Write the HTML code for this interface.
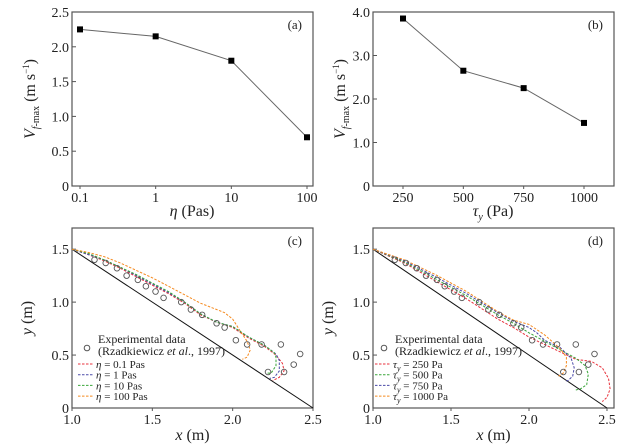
<!DOCTYPE html>
<html><head><meta charset="utf-8"><style>
body{margin:0;background:#fff}
svg{display:block}
svg text{fill:#222;font-family:"Liberation Serif","DejaVu Serif",serif}
</style></head><body>
<svg id="s" width="644" height="448" viewBox="0 0 644 448" font-family="Liberation Serif, serif"></svg>
<script>
// Panel (a)
const aCats=[0.1,1,10,100];
const aVals=[2.25,2.15,1.8,0.7];
const aYTicks=[0,0.5,1.0,1.5,2.0,2.5];
const aXTickLabels=["0.1","1","10","100"];
// Panel (b)
const bCats=[250,500,750,1000];
const bVals=[3.85,2.65,2.25,1.45];
const bYTicks=[0,1.0,2.0,3.0,4.0];
// Experimental data
const expX=[1.14,1.21,1.28,1.34,1.41,1.46,1.52,1.57,1.68,1.74,1.81,1.90,1.95,2.02,2.09,2.18,2.22,2.30,2.32,2.38,2.42];
const expY=[1.40,1.37,1.32,1.25,1.21,1.15,1.10,1.04,1.00,0.93,0.88,0.80,0.76,0.64,0.60,0.60,0.34,0.60,0.34,0.41,0.51];
const cEta01X=[1,1.1,1.2,1.3,1.4,1.5,1.6,1.7,1.8,1.9,2.0,2.1,2.2,2.27,2.31,2.32,2.29,2.25];
const cEta01Y=[1.5,1.45,1.39,1.32,1.24,1.16,1.08,0.99,0.88,0.81,0.76,0.66,0.58,0.50,0.42,0.35,0.29,0.26];
const cEta1X=[1,1.1,1.2,1.3,1.4,1.5,1.6,1.7,1.8,1.9,2.0,2.1,2.2,2.27,2.29,2.29,2.26,2.23];
const cEta1Y=[1.5,1.45,1.40,1.33,1.25,1.17,1.09,1.00,0.89,0.81,0.77,0.67,0.59,0.51,0.45,0.35,0.29,0.28];
const cEta10X=[1,1.1,1.2,1.3,1.4,1.5,1.6,1.7,1.8,1.9,2.0,2.1,2.2,2.26,2.27,2.27,2.24,2.21];
const cEta10Y=[1.5,1.46,1.40,1.33,1.26,1.18,1.10,1.00,0.89,0.81,0.77,0.67,0.59,0.52,0.48,0.40,0.33,0.33];
const cEta100X=[1,1.1,1.2,1.3,1.4,1.5,1.6,1.7,1.8,1.9,1.95,2.0,2.05,2.09,2.11,2.09,2.06];
const cEta100Y=[1.5,1.47,1.43,1.37,1.30,1.23,1.15,1.07,0.99,0.93,0.90,0.84,0.72,0.63,0.55,0.48,0.46];
const d250X=[1,1.2,1.4,1.6,1.8,1.9,2.0,2.1,2.2,2.3,2.4,2.47,2.51,2.52,2.50,2.47];
const d250Y=[1.5,1.37,1.20,1.03,0.84,0.76,0.67,0.60,0.53,0.46,0.44,0.38,0.28,0.18,0.10,0.06];
const d500X=[1,1.2,1.4,1.6,1.8,1.9,2.0,2.1,2.2,2.3,2.36,2.38,2.37,2.33,2.30];
const d500Y=[1.5,1.38,1.22,1.06,0.88,0.80,0.71,0.63,0.55,0.47,0.40,0.32,0.22,0.18,0.17];
const d750X=[1,1.2,1.4,1.6,1.8,1.9,2.0,2.05,2.1,2.2,2.27,2.29,2.28,2.25,2.23];
const d750Y=[1.5,1.39,1.24,1.08,0.90,0.82,0.76,0.71,0.64,0.57,0.47,0.38,0.30,0.26,0.25];
const d1000X=[1,1.2,1.4,1.6,1.8,1.9,2.0,2.1,2.2,2.24,2.24,2.22,2.19];
const d1000Y=[1.5,1.40,1.26,1.10,0.91,0.83,0.79,0.69,0.56,0.48,0.40,0.33,0.30];
const cyTicks=[0,0.5,1.0,1.5];
const cxTicks=[1.0,1.5,2.0,2.5];

const NS="http://www.w3.org/2000/svg";
const svg=document.getElementById('s');
function el(tag,attrs,parent,txt){const e=document.createElementNS(NS,tag);for(const k in attrs)e.setAttribute(k,attrs[k]);if(txt!==undefined)e.innerHTML=txt;(parent||svg).appendChild(e);return e;}
function lin(d0,d1,r0,r1){return v=>r0+(v-d0)/(d1-d0)*(r1-r0);}
function frame(g,L,T,R,B){const f=el('rect',{x:L,y:T,width:R-L,height:B-T,fill:'none',stroke:'#555','stroke-width':1.2},g);}
function yAxis(g,ticks,ys,L,fmt){ticks.forEach(t=>{const y=ys(t);el('line',{x1:L,x2:L+4,y1:y,y2:y,stroke:'#555'},g);const tx=el('text',{x:L-3,y:y+5,'text-anchor':'end','font-size':14},g,fmt(t));});}
function xAxis(g,vals,labels,xs,B){vals.forEach((v,i)=>{const x=xs(v);el('line',{x1:x,x2:x,y1:B,y2:B+3,stroke:'#555'},g);const tx=el('text',{x:x,y:B+16,'text-anchor':'middle','font-size':14},g,labels[i]);});}
function series(g,xsArr,ysArr,xs,ys,color,dash,name){const p=xsArr.map((v,i)=>xs(v).toFixed(1)+','+ys(ysArr[i]).toFixed(1)).join(' ');const l=el('polyline',{points:p,fill:'none',stroke:color,'stroke-width':1,'stroke-dasharray':dash||'none'},g);}

{const g=el('g',{});
const L=72,T=12,R=313,B=186;
const xs=v=>80+Math.log10(v/0.1)*(227/3);const ys=lin(0,2.5,B,T);
frame(g,L,T,R,B);yAxis(g,aYTicks,ys,L,t=>t===0?'0':t.toFixed(1));xAxis(g,aCats,aXTickLabels,xs,B);
series(g,aCats,aVals,xs,ys,'#666',null,'viscosity-line');
aCats.forEach((c,i)=>{const r=el('rect',{x:xs(c)-3,y:ys(aVals[i])-3,width:6,height:6,fill:'#000'},g);});
el('text',{x:302,y:29,'text-anchor':'end','font-size':13},g,'(a)');
const yl=el('text',{transform:'translate(35,99) rotate(-90)','text-anchor':'middle','font-size':16},g,'<tspan font-style="italic">V</tspan><tspan font-size="10" dy="4"><tspan font-style="italic">f</tspan>-max</tspan><tspan dy="-4"> (m s</tspan><tspan font-size="9" dy="-6">−1</tspan><tspan dy="6">)</tspan>');
const xl=el('text',{x:192,y:216,'text-anchor':'middle','font-size':16},g,'<tspan font-style="italic">η</tspan> (Pas)');}

{const g=el('g',{});
const L=373,T=12,R=614,B=186;
const xs=lin(250,1000,403,584);const ys=lin(0,4,B,T);
frame(g,L,T,R,B);yAxis(g,bYTicks,ys,L,t=>t===0?'0':t.toFixed(1));xAxis(g,bCats,bCats.map(String),xs,B);
series(g,bCats,bVals,xs,ys,'#666',null,'yield-stress-line');
bCats.forEach((c,i)=>{const r=el('rect',{x:xs(c)-3,y:ys(bVals[i])-3,width:6,height:6,fill:'#000'},g);});
el('text',{x:603,y:29,'text-anchor':'end','font-size':13},g,'(b)');
const yl=el('text',{transform:'translate(345,99) rotate(-90)','text-anchor':'middle','font-size':16},g,'<tspan font-style="italic">V</tspan><tspan font-size="10" dy="4"><tspan font-style="italic">f</tspan>-max</tspan><tspan dy="-4"> (m s</tspan><tspan font-size="9" dy="-6">−1</tspan><tspan dy="6">)</tspan>');
const xl=el('text',{x:493,y:216,'text-anchor':'middle','font-size':16},g,'<tspan font-style="italic">τ</tspan><tspan font-size="10" dy="4" font-style="italic">y</tspan><tspan dy="-4"> (Pa)</tspan>');}

function lowerPanel(name,L,R,xmax,lab,curves,legendLabels,lx){
const g=el('g',{});
const T=228,B=408;const xs=lin(1,xmax,L,R);const ys=lin(0,1.7,B,T);
frame(g,L,T,R,B);yAxis(g,cyTicks,ys,L,t=>t===0?'0':t.toFixed(1));xAxis(g,cxTicks,cxTicks.map(v=>v.toFixed(1)),xs,B);
series(g,[1,2.5],[1.5,0],xs,ys,'#111',null,'slope-line');
curves.forEach(c=>series(g,c[0],c[1],xs,ys,c[2],'2.5,1.5',c[3]));
expX.forEach((x,i)=>{const c=el('circle',{cx:xs(x),cy:ys(expY[i]),r:2.8,fill:'none',stroke:'#555','stroke-width':0.9},g);});
el('text',{x:R-11,y:245,'text-anchor':'end','font-size':13},g,lab);
const yl=el('text',{transform:'translate('+(L-40)+',318) rotate(-90)','text-anchor':'middle','font-size':16},g,'<tspan font-style="italic">y</tspan> (m)');
const xl=el('text',{x:(L+R)/2,y:440,'text-anchor':'middle','font-size':16},g,'<tspan font-style="italic">x</tspan> (m)');
const lg=el('g',{},g);
el('circle',{cx:lx-11,cy:348,r:2.8,fill:'none',stroke:'#555'},lg);
el('text',{x:lx,y:343,'font-size':12},lg,'Experimental data');
el('text',{x:lx,y:355,'font-size':12},lg,'(Rzadkiewicz <tspan font-style="italic">et al</tspan>., 1997)');
curves.forEach((c,i)=>{const y=368+i*10.7;const ln=el('line',{x1:lx-20,x2:lx-4,y1:y-4,y2:y-4,stroke:c[2],'stroke-dasharray':'2.5,1.5'},lg);el('text',{x:lx-2,y:y,'font-size':11},lg,legendLabels[i]);});
}
lowerPanel('panel-c',72,313,2.5,'(c)',[[cEta01X,cEta01Y,'#e8323c','eta-0.1-curve'],[cEta1X,cEta1Y,'#4a4aa8','eta-1-curve'],[cEta10X,cEta10Y,'#3aa63a','eta-10-curve'],[cEta100X,cEta100Y,'#f58a1f','eta-100-curve']],
['<tspan font-style="italic">η</tspan> = 0.1 Pas','<tspan font-style="italic">η</tspan> = 1 Pas','<tspan font-style="italic">η</tspan> = 10 Pas','<tspan font-style="italic">η</tspan> = 100 Pas'],98);
lowerPanel('panel-d',373,614,2.545,'(d)',[[d250X,d250Y,'#e8323c','tau-250-curve'],[d500X,d500Y,'#3aa63a','tau-500-curve'],[d750X,d750Y,'#4a4aa8','tau-750-curve'],[d1000X,d1000Y,'#f58a1f','tau-1000-curve']],
['<tspan font-style="italic">τ</tspan><tspan font-size="8" dy="3" font-style="italic">y</tspan><tspan dy="-3"> = 250 Pa</tspan>','<tspan font-style="italic">τ</tspan><tspan font-size="8" dy="3" font-style="italic">y</tspan><tspan dy="-3"> = 500 Pa</tspan>','<tspan font-style="italic">τ</tspan><tspan font-size="8" dy="3" font-style="italic">y</tspan><tspan dy="-3"> = 750 Pa</tspan>','<tspan font-style="italic">τ</tspan><tspan font-size="8" dy="3" font-style="italic">y</tspan><tspan dy="-3"> = 1000 Pa</tspan>'],395);
</script>
</body></html>
